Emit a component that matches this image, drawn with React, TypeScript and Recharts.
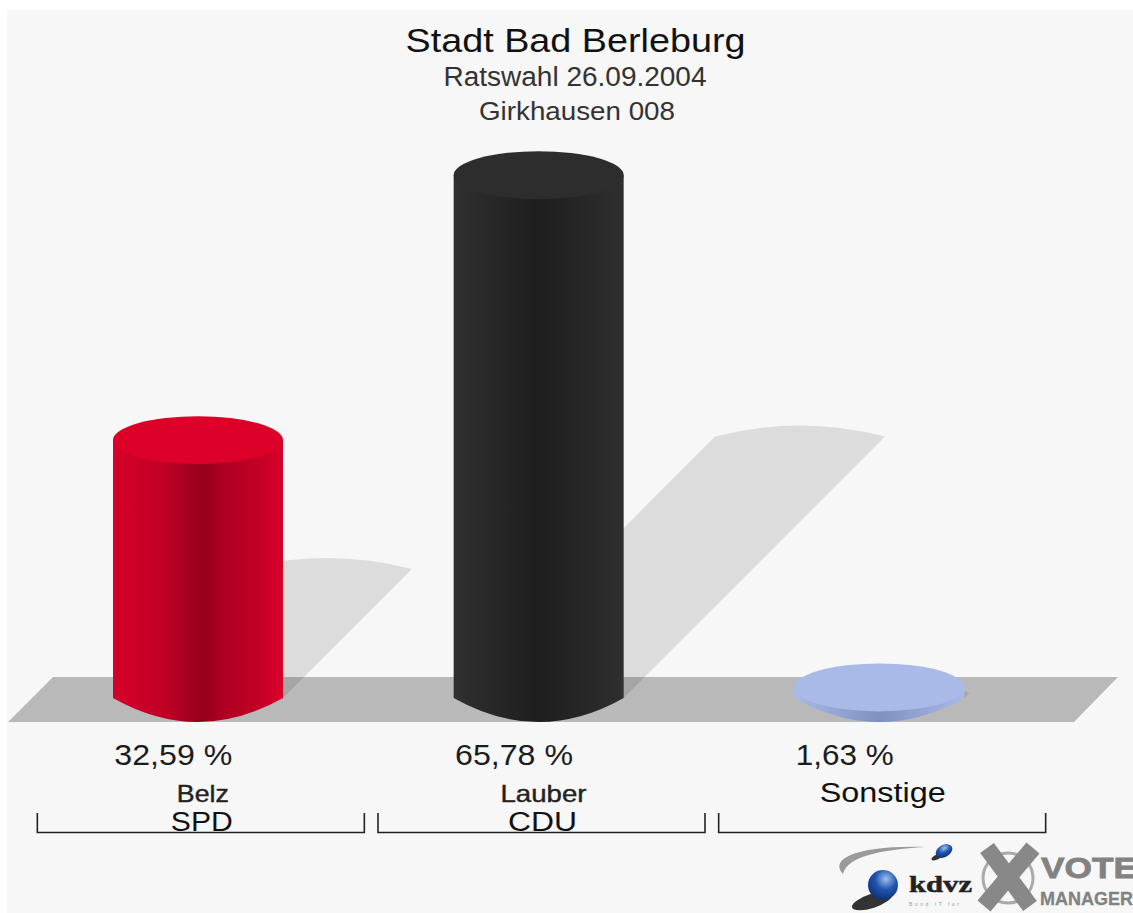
import { Bar, BarChart, Customized, XAxis, YAxis } from "recharts"

const categories = ["SPD", "CDU", "Sonstige"]
const candidates = ["Belz", "Lauber", ""]
const shares = [32.59, 65.78, 1.63]
const shareLabels = ["32,59 %", "65,78 %", "1,63 %"]

const chartData = categories.map((party, i) => ({ party, share: shares[i] }))

const FONT = "'Liberation Sans', Arial, sans-serif"
const RX = 85
const RY = 24
const lidColors = ["#dc0028", "#2d2d2d", "#a9bae8"]
// the source picture is stretched sideways, so text is fitted to its measured width
const shareWidths = [118, 118, 98]
const candidateWidths = [52, 86, 0]
const partyWidths = [62, 69, 126]

function Cylinder(props: any) {
  const { x, y, width, height, index } = props
  const base = y + height
  const cx = x + width / 2
  const rise = height / 2
  const body = `M${x},${y} L${x},${base} Q${cx},${base + 2 * RY} ${x + width},${base} L${x + width},${y} Z`
  const shadow =
    `M${x},${base} L${x + rise},${base - rise} ` +
    `Q${cx + rise},${base - rise - 22} ${x + width + rise},${base - rise} L${x + width},${base} Z`

  return (
    <g>
      <path d={shadow} fill="#000" fillOpacity={0.105} />
      <path d={body} fill={`url(#side${index})`} />
      <ellipse cx={cx} cy={y} rx={RX} ry={RY} fill={lidColors[index]} />
    </g>
  )
}

function CategoryTick(props: any) {
  const { x, index, payload } = props
  const cx = x + 2.5
  const name = candidates[index]
  return (
    <g fontFamily={FONT}>
      <text x={x - RX + 1} y={765} fontSize={29} fill="#1c1c1c" textLength={shareWidths[index]} lengthAdjust="spacingAndGlyphs">
        {shareLabels[index]}
      </text>
      {name ? (
        <>
          <text
            x={cx + 2}
            y={802}
            fontSize={24}
            textAnchor="middle"
            fill="#222"
            stroke="#222"
            strokeWidth={0.4}
            textLength={candidateWidths[index]}
            lengthAdjust="spacingAndGlyphs"
          >
            {name}
          </text>
          <text
            x={cx + 1}
            y={831}
            fontSize={27}
            textAnchor="middle"
            fill="#111"
            textLength={partyWidths[index]}
            lengthAdjust="spacingAndGlyphs"
          >
            {payload.value}
          </text>
        </>
      ) : (
        <text
          x={cx + 0.5}
          y={802}
          fontSize={27}
          textAnchor="middle"
          fill="#111"
          textLength={partyWidths[index]}
          lengthAdjust="spacingAndGlyphs"
        >
          {payload.value}
        </text>
      )}
      <path
        d={`M${cx - 163.5},813 V832.5 H${cx + 163.5} V813`}
        fill="none"
        stroke="#222"
        strokeWidth={1.6}
      />
    </g>
  )
}

// floor band and titles sit outside the data
function Backdrop() {
  return (
    <g fontFamily={FONT}>
      <rect x={7} y={10} width={1126} height={903} fill="#f7f7f7" />
      <polygon points="8,722 53,677 1118,677 1074,722" fill="#b9b9b9" />
      <text x={575.5} y={51.5} fontSize={33} textAnchor="middle" fill="#111" textLength={340} lengthAdjust="spacingAndGlyphs">
        Stadt Bad Berleburg
      </text>
      <text x={575} y={86} fontSize={27} textAnchor="middle" fill="#333" textLength={263} lengthAdjust="spacingAndGlyphs">
        Ratswahl 26.09.2004
      </text>
      <text x={577} y={119.5} fontSize={26} textAnchor="middle" fill="#333" textLength={196} lengthAdjust="spacingAndGlyphs">
        Girkhausen 008
      </text>
    </g>
  )
}

function Logos() {
  return (
    <g>
      <path d="M843,874 C828,858 860,845 925,847 C880,850 848,856 843,874 Z" fill="#9a9a9a" />
      <ellipse cx={872} cy={901} rx={21} ry={7} fill="#333" transform="rotate(-18 872 901)" />
      <circle cx={883} cy={885} r={15} fill="url(#kdvzBall)" />
      <ellipse cx={937} cy={857} rx={6} ry={2.5} fill="#333" transform="rotate(-25 937 857)" />
      <ellipse cx={944} cy={851} rx={9} ry={6} fill="url(#kdvzBall)" transform="rotate(-30 944 851)" />
      <text
        x={909}
        y={892}
        fontFamily="'Liberation Serif', serif"
        fontWeight="bold"
        fontSize={24}
        fill="#222"
        stroke="#222"
        strokeWidth={0.5}
        textLength={63}
        lengthAdjust="spacingAndGlyphs"
      >
        kdvz
      </text>
      <text x={909} y={906} fontFamily={FONT} fontSize={5} fill="#999" textLength={50}>
        Bund IT fur
      </text>
      <circle cx={1008} cy={878} r={25} fill="none" stroke="#aaa" strokeWidth={3} />
      <path d="M987,848 L1030,906 M1033,848 L984,906" stroke="#888" strokeWidth={17} fill="none" />
      <g fontFamily={FONT} fontWeight="bold" fill="#828282" stroke="#828282" strokeWidth={0.8}>
        <text x={1041} y={878} fontSize={30} textLength={96} lengthAdjust="spacingAndGlyphs">
          VOTE
        </text>
        <text x={1040} y={905} fontSize={18} strokeWidth={0.3} textLength={93} lengthAdjust="spacingAndGlyphs">
          MANAGER
        </text>
      </g>
    </g>
  )
}

export default function App() {
  return (
    <div style={{ position: "absolute", left: 0, top: 0, width: 1133, height: 913, background: "#fff" }}>
      <BarChart
        width={1133}
        height={913}
        data={chartData}
        margin={{ top: 141.5, right: 83, bottom: 0, left: 28 }}
        barCategoryGap={0}
      >
        <defs>
          <linearGradient id="side0" x1="0" y1="0" x2="1" y2="0">
            <stop offset="0" stopColor="#d6002a" />
            <stop offset="0.3" stopColor="#c20026" />
            <stop offset="0.52" stopColor="#96001a" />
            <stop offset="0.64" stopColor="#ac0020" />
            <stop offset="0.86" stopColor="#c40026" />
            <stop offset="1" stopColor="#da002a" />
          </linearGradient>
          <linearGradient id="side1" x1="0" y1="0" x2="1" y2="0">
            <stop offset="0" stopColor="#303030" />
            <stop offset="0.5" stopColor="#1e1e1e" />
            <stop offset="1" stopColor="#2f2f2f" />
          </linearGradient>
          <linearGradient id="side2" x1="0" y1="0" x2="1" y2="0">
            <stop offset="0" stopColor="#a9bae8" />
            <stop offset="0.5" stopColor="#7f8fc0" />
            <stop offset="1" stopColor="#a9bae8" />
          </linearGradient>
          <radialGradient id="kdvzBall" cx="0.6" cy="0.3" r="0.8">
            <stop offset="0" stopColor="#9fc0ec" />
            <stop offset="0.45" stopColor="#1f55b0" />
            <stop offset="1" stopColor="#0c2a66" />
          </radialGradient>
        </defs>
        <Customized component={Backdrop} />
        <XAxis
          dataKey="party"
          height={215}
          axisLine={false}
          tickLine={false}
          interval={0}
          tick={<CategoryTick />}
        />
        <YAxis hide domain={[0.3, 70]} />
        <Bar dataKey="share" barSize={170} shape={<Cylinder />} isAnimationActive={false} />
        <Customized component={Logos} />
      </BarChart>
    </div>
  )
}
